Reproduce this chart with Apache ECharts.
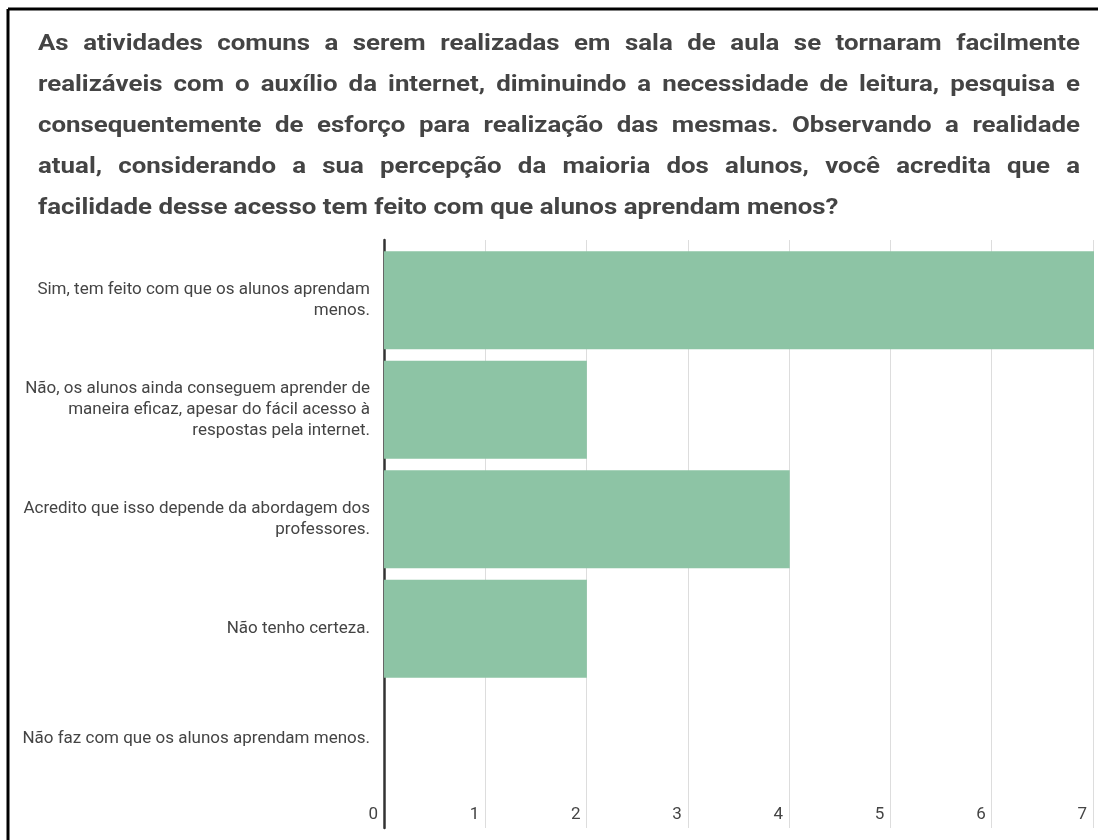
<!DOCTYPE html>
<html>
<head>
<meta charset="utf-8">
<script src="https://cdn.jsdelivr.net/npm/echarts@6/dist/echarts.min.js"></script>
<style>
html,body{margin:0;padding:0;background:#fff;}
#main{width:1098px;height:840px;}
</style>
</head>
<body>
<div id="main"></div>
<script>
const titleLines = [
  "As atividades comuns a serem realizadas em sala de aula se tornaram facilmente",
  "realizáveis com o auxílio da internet, diminuindo a necessidade de leitura, pesquisa e",
  "consequentemente de esforço para realização das mesmas. Observando a realidade",
  "atual, considerando a sua percepção da maioria dos alunos, você acredita que a",
  "facilidade desse acesso tem feito com que alunos aprendam menos?"
];
const categories = [
  "Sim, tem feito com que os alunos aprendam\nmenos.",
  "Não, os alunos ainda conseguem aprender de\nmaneira eficaz, apesar do fácil acesso à\nrespostas pela internet.",
  "Acredito que isso depende da abordagem dos\nprofessores.",
  "Não tenho certeza.",
  "Não faz com que os alunos aprendam menos."
];
const values = [7, 2, 4, 2, 0];
const tickValues = [0, 1, 2, 3, 4, 5, 6, 7];

const chart = echarts.init(document.getElementById('main'), null, {renderer: 'canvas'});

// Justified title built from words (text slightly stretched horizontally like the reference)
const titleFont = 'bold 22px Roboto';
const sx = 1.175;
const ctx = document.createElement('canvas').getContext('2d');
ctx.font = titleFont;
const tLeft = 38, tRight = 1080, tTop = 44, tLH = 41.2;
const graphics = [];
titleLines.forEach((line, i) => {
  const words = line.split(' ');
  const widths = words.map(w => ctx.measureText(w).width * sx);
  const total = widths.reduce((a, b) => a + b, 0);
  const last = i === titleLines.length - 1;
  const gap = last ? ctx.measureText(' ').width * sx : (tRight - tLeft - total) / (words.length - 1);
  let x = tLeft;
  words.forEach((w, j) => {
    graphics.push({
      type: 'text', x: x, y: tTop + i * tLH, scaleX: sx,
      style: {text: w, x: 0, y: 0, font: titleFont, fill: '#444444', textVerticalAlign: 'middle', textAlign: 'left'}
    });
    x += widths[j] + gap;
  });
});
// frame (left and top edges)
graphics.push({
  type: 'line', shape: {x1: 8, y1: 9, x2: 1098, y2: 9},
  style: {stroke: '#000', lineWidth: 3}, z: 100
});
graphics.push({
  type: 'line', shape: {x1: 8, y1: 9, x2: 8, y2: 840},
  style: {stroke: '#000', lineWidth: 3}, z: 100
});

const option = {
  animation: false,
  backgroundColor: '#fff',
  textStyle: {fontFamily: 'Roboto'},
  graphic: graphics,
  grid: [
    {left: 384, right: 5, top: 240, bottom: 12, containLabel: false},
    {left: 384, right: 4, top: 245.5, bottom: 47, containLabel: false}
  ],
  xAxis: [
    {
      gridIndex: 0, type: 'value', min: 0, max: 7, interval: 1,
      axisLine: {show: false}, axisTick: {show: false},
      splitLine: {show: true, lineStyle: {color: '#dddddd', width: 1}},
      axisLabel: {
        inside: true, margin: 5, align: 'right', verticalAlign: 'bottom',
        padding: [0, 6, 0, 0], color: '#444', fontSize: 17, fontFamily: 'Roboto',
        formatter: v => tickValues.includes(v) ? String(v) : ''
      }
    },
    {
      gridIndex: 1, type: 'value', min: 0, max: 7, interval: 1, show: false
    }
  ],
  yAxis: [
    {
      gridIndex: 0, type: 'value', min: 0, max: 1,
      axisLine: {show: true, onZero: false, lineStyle: {color: '#333333', width: 2.5}},
      axisTick: {show: false}, axisLabel: {show: false}, splitLine: {show: false}
    },
    {
      gridIndex: 1, type: 'category', inverse: true, data: categories,
      axisLine: {show: false}, axisTick: {show: false},
      axisLabel: {
        margin: 14, color: '#444', fontSize: 17, lineHeight: 21,
        fontFamily: 'Roboto', align: 'right'
      }
    }
  ],
  series: [{
    type: 'bar', xAxisIndex: 1, yAxisIndex: 1, data: values,
    barCategoryGap: '10.5%',
    itemStyle: {color: '#8dc4a5'}
  }]
};
chart.setOption(option);
</script>
</body>
</html>
